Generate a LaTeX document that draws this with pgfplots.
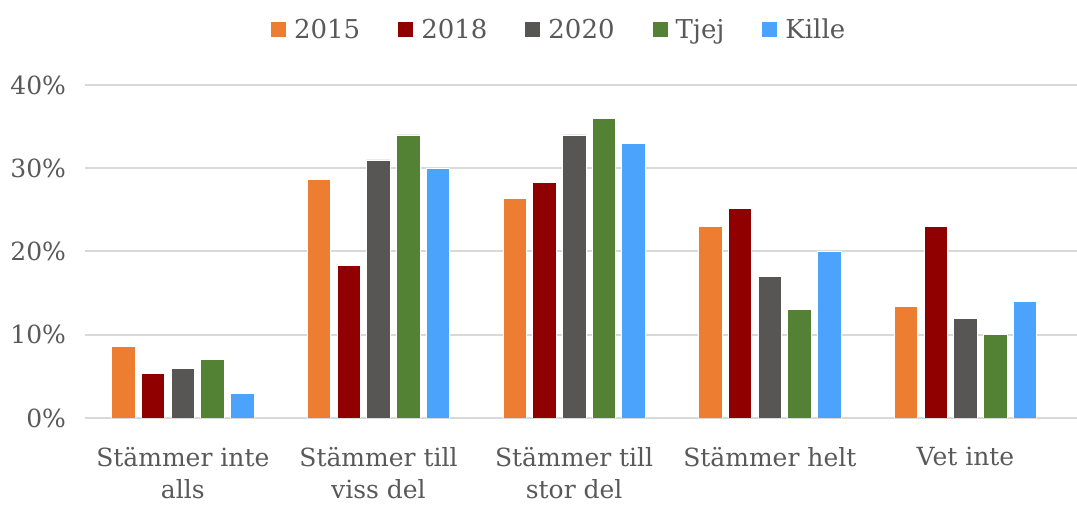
\documentclass[border=0pt]{standalone}
\usepackage{pgfplots}
\pgfplotsset{compat=1.18}
\usepackage{fontspec}
\setmainfont{DejaVu Serif}

\definecolor{c2015}{HTML}{ED7D31}
\definecolor{c2018}{HTML}{900000}
\definecolor{c2020}{HTML}{575654}
\definecolor{ctjej}{HTML}{548235}
\definecolor{ckille}{HTML}{4BA3FB}
\definecolor{txt}{HTML}{595959}
\definecolor{gridc}{HTML}{D9D9D9}

\begin{document}
\begin{tikzpicture}
\begin{axis}[
    scale only axis, width=496pt, height=166.5pt,
    ybar=3.1pt, bar width=11.75pt,
    xmin=-0.5, xmax=4.57, ymin=0, ymax=40,
    xtick={0,1,2,3,4},
    xticklabels={{Stämmer inte\\alls},{Stämmer till\\viss del},{Stämmer till\\stor del},{Stämmer helt},{Vet inte}},
    ytick={0,10,20,30,40},
    yticklabel={\pgfmathprintnumber{\tick}\%},
    /pgf/number format/assume math mode=true,
    major tick length=0pt,
    axis line style={draw=none},
    xmajorgrids=false,
    ymajorgrids, grid style={draw=gridc, line width=1pt},
    every tick label/.append style={text=txt, font=\fontsize{12.5}{16}\selectfont},
    xticklabel style={align=center, yshift=-11pt},
    yticklabel style={xshift=-6pt},
    legend style={draw=none, legend columns=-1, at={(0.479,1)}, anchor=center, yshift=27.5pt,
        font=\fontsize{13}{15}\selectfont, text=txt,
        /tikz/every odd column/.append style={column sep=2pt},
        /tikz/every even column/.append style={column sep=17pt}},
    legend image code/.code={\fill[#1,draw=none] (0pt,-3.75pt) rectangle (7.5pt,3.75pt);},
    every axis plot/.append style={draw=white, line width=0.4pt},
]
\addplot[fill=c2015] coordinates {(0,8.6) (1,28.6) (2,26.4) (3,23) (4,13.4)};
\addplot[fill=c2018] coordinates {(0,5.3) (1,18.3) (2,28.3) (3,25.2) (4,23)};
\addplot[fill=c2020] coordinates {(0,6) (1,31) (2,34) (3,17) (4,12)};
\addplot[fill=ctjej] coordinates {(0,7) (1,34) (2,36) (3,13) (4,10)};
\addplot[fill=ckille] coordinates {(0,3) (1,30) (2,33) (3,20) (4,14)};
\legend{2015,2018,2020,Tjej,Kille}
\end{axis}
\pgfresetboundingbox
\path ([shift={(-42.5pt,-43.75pt)}]current axis.south west) rectangle ([shift={(0pt,42.5pt)}]current axis.north east);
\end{tikzpicture}
\end{document}
